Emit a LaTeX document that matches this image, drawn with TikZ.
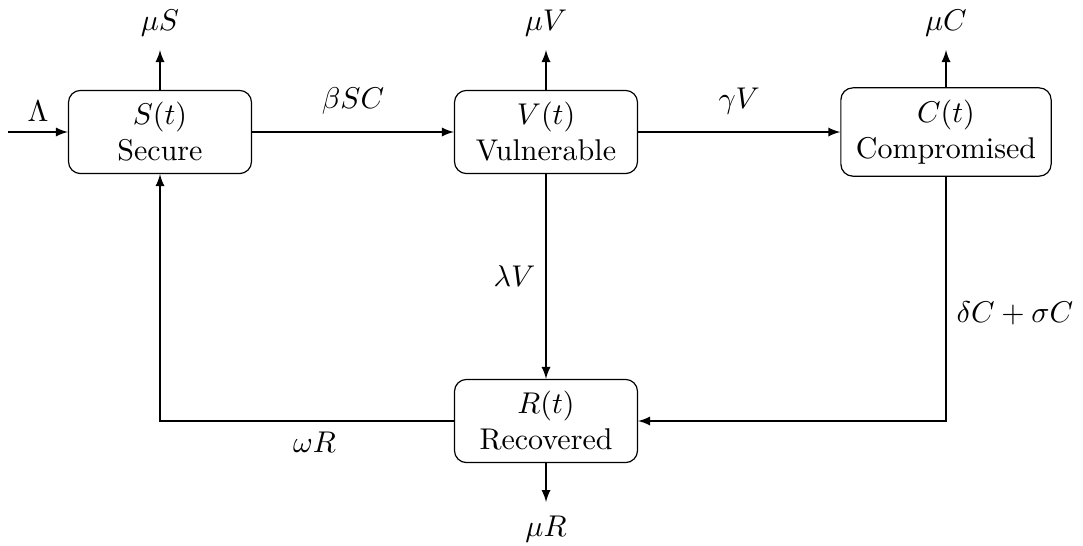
\documentclass[tikz,border=0pt]{standalone}
\usetikzlibrary{arrows.meta}
\begin{document}
\begin{tikzpicture}[x=0.3333pt,y=-0.3333pt,
  box/.style={draw, rounded corners=4pt, align=center, minimum width=61pt, minimum height=27.7pt, inner xsep=5pt, inner ysep=4pt},
  flow/.style={-latex}]
\useasboundingbox (0,0) rectangle (1083,545);
\node[box] (S) at (160,132) {$S(t)$\\Secure};
\node[box] (V) at (546,132) {$V(t)$\\Vulnerable};
\node[box] (C) at (946,132) {$C(t)$\\Compromised};
\node[box] (R) at (546,421) {$R(t)$\\Recovered};
\coordinate (in) at (8,132);
\coordinate (muS) at (160,50);
\coordinate (muV) at (546,50);
\coordinate (muC) at (946,50);
\coordinate (muR) at (546,502);
\draw[flow] (in) -- node[above]{$\Lambda$} (S.west);
\draw[flow] (S.north) -- (muS) node[above=1pt]{$\mu S$};
\draw[flow] (V.north) -- (muV) node[above=1pt]{$\mu V$};
\draw[flow] (C.north) -- (muC) node[above=1pt]{$\mu C$};
\draw[flow] (R.south) -- (muR) node[below=1pt]{$\mu R$};
\draw[flow] (S.east) -- node[above=2.5pt]{$\beta SC$} (V.west);
\draw[flow] (V.east) -- node[above=2.5pt]{$\gamma V$} (C.west);
\draw[flow] (V.south) -- node[left]{$\lambda V$} (R.north);
\draw[flow] (C.south) |- node[pos=0.28,right]{$\delta C+\sigma C$} (R.east);
\draw[flow] (R.west) -| node[pos=0.237,below]{$\omega R$} (S.south);
\end{tikzpicture}
\end{document}
